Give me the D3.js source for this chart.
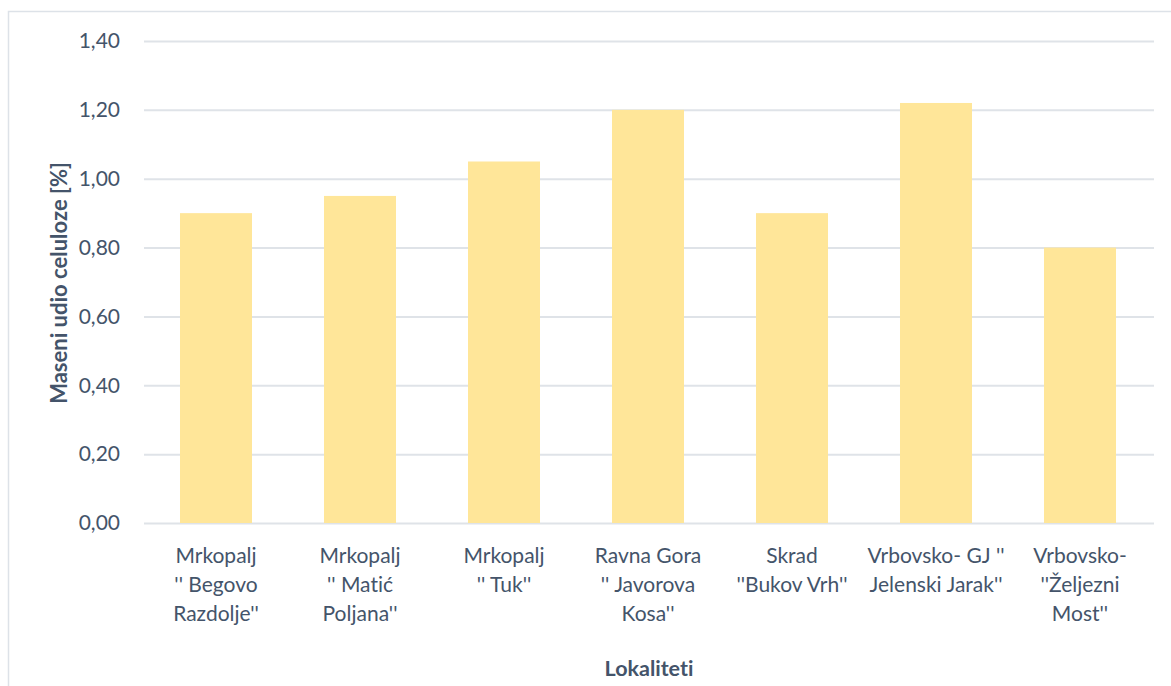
<!DOCTYPE html>
<html><head><meta charset="utf-8">
<script src="https://cdn.jsdelivr.net/npm/d3@7"></script>
<style>body{margin:0;background:#fff;}svg{display:block;}text{font-variant-ligatures:none;font-feature-settings:"liga" 0;}</style>
</head><body>
<svg id="c" width="1171" height="686"></svg>
<script>
const categories = [
  "Mrkopalj '' Begovo Razdolje''",
  "Mrkopalj '' Matić Poljana''",
  "Mrkopalj '' Tuk''",
  "Ravna Gora '' Javorova Kosa''",
  "Skrad ''Bukov Vrh''",
  "Vrbovsko- GJ '' Jelenski Jarak''",
  "Vrbovsko- ''Željezni Most''"
];
const categoryLines = [
  ["Mrkopalj", "'' Begovo", "Razdolje''"],
  ["Mrkopalj", "'' Matić", "Poljana''"],
  ["Mrkopalj", "'' Tuk''"],
  ["Ravna Gora", "'' Javorova", "Kosa''"],
  ["Skrad", "''Bukov Vrh''"],
  ["Vrbovsko- GJ ''", "Jelenski Jarak''"],
  ["Vrbovsko-", "''Željezni", "Most''"]
];
const values = [0.90, 0.95, 1.05, 1.20, 0.90, 1.22, 0.80];
const yTicks = [0, 0.2, 0.4, 0.6, 0.8, 1.0, 1.2, 1.4];
const yTitle = "Maseni udio celuloze [%]";
const xTitle = "Lokaliteti";

const svg = d3.select("#c");
const font = "Lato, 'Open Sans', sans-serif";
const textCol = "#44546a";
const gridCol = "#dfe3e8";

// outer border
svg.append("rect").attr("x", 8.5).attr("y", 11.5).attr("width", 1180).attr("height", 700)
  .attr("fill", "none").attr("stroke", "#dde2e8").attr("stroke-width", 1.5);

const m = {left: 144, right: 1152, top: 41, bottom: 523};
const x = d3.scaleBand().domain(categories).range([m.left, m.right]).paddingInner(0.5).paddingOuter(0.25);
const y = d3.scaleLinear().domain([0, 1.4]).range([m.bottom, m.top]);

// gridlines
const yAxis = d3.axisLeft(y).tickValues(yTicks).tickSize(-(m.right - m.left + 2))
  .tickFormat(d => d3.format(".2f")(d).replace(".", ",")).tickPadding(24);
const gy = svg.append("g").attr("transform", `translate(${m.left},0)`).call(yAxis);
gy.select(".domain").remove();
gy.selectAll(".tick line").attr("stroke", gridCol).attr("stroke-width", 2);
gy.selectAll(".tick text").attr("fill", textCol).style("font-family", font).style("font-size", "21px");

// bars
svg.append("g").selectAll("rect").data(values).join("rect")
  .attr("x", (d, i) => x(categories[i]))
  .attr("y", d => y(d))
  .attr("width", x.bandwidth())
  .attr("height", d => y(0) - y(d))
  .attr("fill", "#ffe699");

// x labels
const gx = svg.append("g");
categories.forEach((c, i) => {
  const t = gx.append("text").attr("text-anchor", "middle")
    .attr("fill", textCol).style("font-family", font).style("font-size", "21px");
  categoryLines[i].forEach((ln, j) => {
    t.append("tspan").attr("x", x(c) + x.bandwidth() / 2).attr("y", 563 + j * 29).text(ln);
  });
});

// axis titles
svg.append("text").attr("x", (m.left + m.right) / 2 + 1).attr("y", 676).attr("text-anchor", "middle")
  .attr("fill", textCol).style("font-family", font).style("font-size", "21.5px").style("font-weight", "bold").text(xTitle);
svg.append("text").attr("transform", `translate(67,${(m.top + m.bottom) / 2 + 1}) rotate(-90)`)
  .attr("text-anchor", "middle").attr("fill", textCol).style("font-family", font)
  .style("font-size", "22px").style("font-weight", "bold").text(yTitle);
</script>
</body></html>
